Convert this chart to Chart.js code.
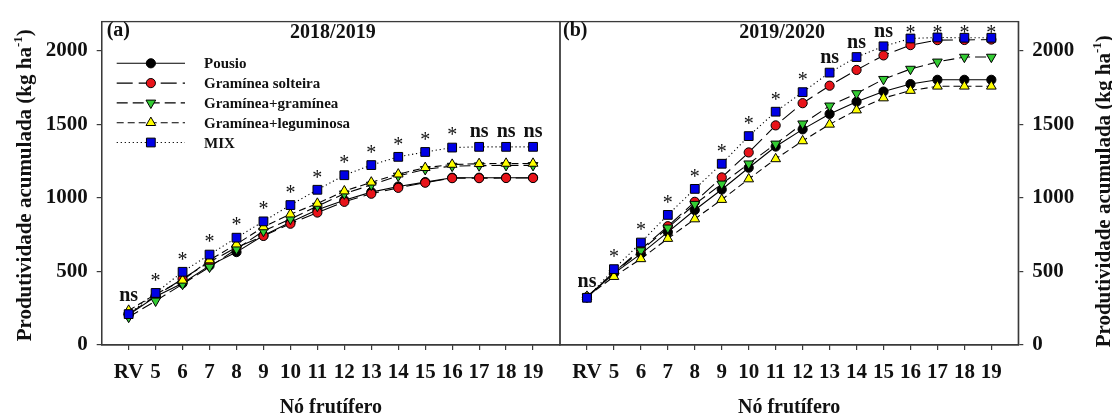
<!DOCTYPE html>
<html>
<head>
<meta charset="utf-8">
<script src="https://cdn.jsdelivr.net/npm/chart.js@4/dist/chart.umd.min.js"></script>
<style>
  html, body { margin: 0; padding: 0; background: #ffffff; }
  #wrap { position: relative; width: 1112px; height: 416px; overflow: hidden; background: #ffffff; }
  #wrap canvas { position: absolute; top: 0; }
  #chartA { left: 0; }
  #chartB { left: 550px; }
</style>
</head>
<body>
<div id="wrap">
  <canvas id="chartA" width="570" height="416"></canvas>
  <canvas id="chartB" width="562" height="416"></canvas>
</div>
<script>
// Fruiting nodes on the horizontal axis
const categories = ['RV', '5', '6', '7', '8', '9', '10', '11', '12', '13', '14', '15', '16', '17', '18', '19'];
const seriesNames = ['Pousio', 'Gramínea solteira', 'Gramínea+gramínea', 'Gramínea+leguminosa', 'MIX'];
const yTicks = [0, 500, 1000, 1500, 2000];

// Accumulated yield, 2018/2019 (kg ha-1)
const pousio1819    = [205, 330, 420, 540, 632, 745, 835, 920, 985, 1040, 1078, 1108, 1138, 1138, 1138, 1138];
const solteira1819  = [210, 335, 450, 565, 664, 742, 825, 901, 974, 1029, 1069, 1104, 1135, 1135, 1136, 1136];
const gramGram1819  = [190, 300, 414, 531, 653, 775, 857, 945, 1029, 1089, 1150, 1195, 1217, 1220, 1222, 1222];
const gramLeg1819   = [235, 345, 440, 578, 686, 803, 890, 963, 1047, 1107, 1162, 1206, 1228, 1233, 1235, 1235];
const mix1819       = [210, 354, 498, 615, 730, 841, 952, 1056, 1155, 1224, 1280, 1313, 1343, 1348, 1348, 1348];
const signif1819    = ['ns', '*', '*', '*', '*', '*', '*', '*', '*', '*', '*', '*', '*', 'ns', 'ns', 'ns'];

// Accumulated yield, 2019/2020 (kg ha-1)
const pousio1920    = [325, 487, 620, 768, 918, 1058, 1206, 1350, 1467, 1572, 1655, 1724, 1775, 1804, 1804, 1804];
const solteira1920  = [325, 495, 650, 808, 974, 1140, 1310, 1494, 1645, 1764, 1871, 1970, 2040, 2074, 2075, 2078];
const gramGram1920  = [328, 490, 642, 797, 958, 1096, 1233, 1368, 1505, 1627, 1711, 1808, 1877, 1926, 1959, 1959];
const gramLeg1920   = [330, 465, 586, 724, 857, 989, 1129, 1266, 1388, 1501, 1598, 1680, 1731, 1760, 1760, 1760];
const mix1920       = [321, 516, 697, 885, 1062, 1233, 1421, 1587, 1720, 1853, 1959, 2032, 2085, 2092, 2090, 2090];
const signif1920    = ['ns', '*', '*', '*', '*', '*', '*', '*', '*', 'ns', 'ns', 'ns', '*', '*', '*', '*'];

const SERIF = '"Liberation Serif", "Times New Roman", serif';
const AXIS_COLOR = '#3a3a3a';

// Line and marker look of each treatment
const seriesStyles = [
  { fill: '#000000', shape: 'circle',   rotation: 0,   radius: 4.6, dash: [] },
  { fill: '#e8141a', shape: 'circle',   rotation: 0,   radius: 4.6, dash: [16, 6] },
  { fill: '#33cc33', shape: 'triangle', rotation: 180, radius: 5.6, dash: [11, 5] },
  { fill: '#ffff00', shape: 'triangle', rotation: 0,   radius: 5.6, dash: [7, 4] },
  { fill: '#0000e6', shape: 'rect',     rotation: 0,   radius: 6.2, dash: [1.2, 2.8] }
];

function buildDatasets(seriesValues) {
  return seriesValues.map((values, i) => {
    const st = seriesStyles[i];
    return {
      label: seriesNames[i],
      data: values.map((v, k) => ({ x: k + 1, y: v })),
      borderColor: '#000000',
      borderWidth: 1.1,
      borderDash: st.dash,
      pointStyle: st.shape,
      pointRotation: st.rotation,
      pointRadius: st.radius,
      pointHoverRadius: st.radius,
      pointBackgroundColor: st.fill,
      pointBorderColor: '#000000',
      pointBorderWidth: 1,
      tension: 0,
      fill: false,
      order: seriesValues.length - i
    };
  });
}

function buildScales(side, yAxisWidth) {
  const tickFont = { family: SERIF, size: 21, weight: 'bold' };
  return {
    x: {
      type: 'linear',
      min: 0,
      max: categories.length + 1,
      afterBuildTicks(axis) { axis.ticks = categories.map((c, i) => ({ value: i + 1 })); },
      afterFit(axis) { axis.height = 71; },
      ticks: {
        callback: (v) => categories[v - 1] ?? '',
        font: tickFont,
        color: '#111111',
        padding: 10,
        maxRotation: 0,
        autoSkip: false
      },
      grid: { drawOnChartArea: false, drawTicks: true, tickLength: 5, color: AXIS_COLOR, lineWidth: 1.2 },
      border: { display: true, color: AXIS_COLOR, width: 1.3 }
    },
    y: {
      type: 'linear',
      position: side,
      min: 0,
      max: 2200,
      afterBuildTicks(axis) { axis.ticks = yTicks.map(v => ({ value: v })); },
      afterFit(axis) { axis.width = yAxisWidth; },
      ticks: { font: tickFont, color: '#111111', padding: 9, callback: (v) => String(v) },
      grid: { drawOnChartArea: false, drawTicks: true, tickLength: 5, color: AXIS_COLOR, lineWidth: 1.2 },
      border: { display: true, color: AXIS_COLOR, width: 1.3 }
    }
  };
}

function drawYTitle(ctx, cx, cy) {
  const big = 'bold 21px ' + SERIF;
  const small = 'bold 13px ' + SERIF;
  const main = 'Produtividade acumulada (kg ha';
  const sup = '-1';
  const close = ')';
  ctx.font = big;
  const w1 = ctx.measureText(main).width;
  const w3 = ctx.measureText(close).width;
  ctx.font = small;
  const w2 = ctx.measureText(sup).width;
  const total = w1 + w2 + w3;
  ctx.save();
  ctx.translate(cx, cy);
  ctx.rotate(-Math.PI / 2);
  ctx.fillStyle = '#111111';
  ctx.textAlign = 'left';
  ctx.textBaseline = 'alphabetic';
  let x = -total / 2;
  const base = 7;
  ctx.font = big;
  ctx.fillText(main, x, base);
  x += w1;
  ctx.font = small;
  ctx.fillText(sup, x, base - 9);
  x += w2;
  ctx.font = big;
  ctx.fillText(close, x, base);
  ctx.restore();
}

// Frame, panel captions, axis titles, legend and significance marks
const panelDecor = {
  id: 'panelDecor',
  afterDatasetsDraw(chart, args, opts) {
    const ctx = chart.ctx;
    const xs = chart.scales.x;
    const ys = chart.scales.y;
    const top = chart.chartArea.top;
    ctx.save();
    ctx.fillStyle = '#111111';
    ctx.textAlign = 'center';
    ctx.textBaseline = 'alphabetic';
    opts.signif.forEach((mark, i) => {
      const vmax = Math.max(...chart.data.datasets.map(ds => ds.data[i].y));
      const py = ys.getPixelForValue(vmax);
      const px = xs.getPixelForValue(i + 1);
      if (mark === '*') {
        ctx.font = '20px ' + SERIF;
        const cy = Math.max(py - 17, top + 7);
        ctx.fillText('*', px, cy + 10.8);
      } else {
        ctx.font = 'bold 20px ' + SERIF;
        const cy = Math.max(py - 14, top + 7);
        ctx.fillText(mark, px, cy + 4.6);
      }
    });
    ctx.restore();
  },
  afterDraw(chart, args, opts) {
    const ctx = chart.ctx;
    const a = chart.chartArea;
    ctx.save();
    ctx.strokeStyle = AXIS_COLOR;
    ctx.lineWidth = 1.3;
    ctx.strokeRect(a.left, a.top, a.right - a.left, a.bottom - a.top);

    ctx.fillStyle = '#111111';
    ctx.font = 'bold 20px ' + SERIF;
    ctx.textBaseline = 'alphabetic';
    ctx.textAlign = 'left';
    ctx.fillText(opts.tag, a.left + opts.tagDx, 36);
    ctx.textAlign = 'center';
    ctx.fillText(opts.season, (a.left + a.right) / 2 + opts.seasonDx, 38);
    ctx.fillText('Nó frutífero', (a.left + a.right) / 2, 413);

    drawYTitle(ctx, opts.yTitleX, (a.top + a.bottom) / 2 + opts.yTitleDy);

    if (opts.legend) {
      const lg = opts.legend;
      chart.data.datasets.forEach((ds, i) => {
        const y = lg.y0 + i * lg.dy;
        ctx.save();
        ctx.strokeStyle = ds.borderColor;
        ctx.lineWidth = ds.borderWidth;
        ctx.setLineDash(ds.borderDash);
        ctx.beginPath();
        ctx.moveTo(lg.x0, y);
        ctx.lineTo(lg.x1, y);
        ctx.stroke();
        ctx.setLineDash([]);
        ctx.fillStyle = ds.pointBackgroundColor;
        ctx.strokeStyle = ds.pointBorderColor;
        ctx.lineWidth = ds.pointBorderWidth;
        Chart.helpers.drawPoint(ctx, {
          pointStyle: ds.pointStyle,
          rotation: ds.pointRotation,
          radius: ds.pointRadius,
          borderWidth: ds.pointBorderWidth
        }, (lg.x0 + lg.x1) / 2, y);
        ctx.restore();
        ctx.fillStyle = '#111111';
        ctx.font = 'bold 15px ' + SERIF;
        ctx.textAlign = 'left';
        ctx.textBaseline = 'alphabetic';
        ctx.fillText(ds.label, lg.textX, y + 5);
      });
    }
    ctx.restore();
  }
};

function makeChart(canvasId, seriesValues, side, yAxisWidth, padding, decor) {
  return new Chart(document.getElementById(canvasId), {
    type: 'line',
    data: { datasets: buildDatasets(seriesValues) },
    options: {
      responsive: false,
      animation: false,
      devicePixelRatio: 1,
      layout: { padding },
      scales: buildScales(side, yAxisWidth),
      plugins: {
        legend: { display: false },
        tooltip: { enabled: false },
        panelDecor: decor
      }
    },
    plugins: [panelDecor]
  });
}

makeChart('chartA',
  [pousio1819, solteira1819, gramGram1819, gramLeg1819, mix1819],
  'left', 101.7, { top: 15, bottom: 0, left: 0, right: 10 },
  {
    tag: '(a)', tagDx: 5, season: '2018/2019', seasonDx: 2,
    signif: signif1819, yTitleX: 24, yTitleDy: 2,
    legend: { x0: 116.7, x1: 185, textX: 204, y0: 63.3, dy: 19.8 }
  });

makeChart('chartB',
  [pousio1920, solteira1920, gramGram1920, gramLeg1920, mix1920],
  'right', 93.7, { top: 15, bottom: 0, left: 10, right: 0 },
  {
    tag: '(b)', tagDx: 3, season: '2019/2020', seasonDx: -7,
    signif: signif1920, yTitleX: 553, yTitleDy: 8,
    legend: null
  });
</script>
</body>
</html>
